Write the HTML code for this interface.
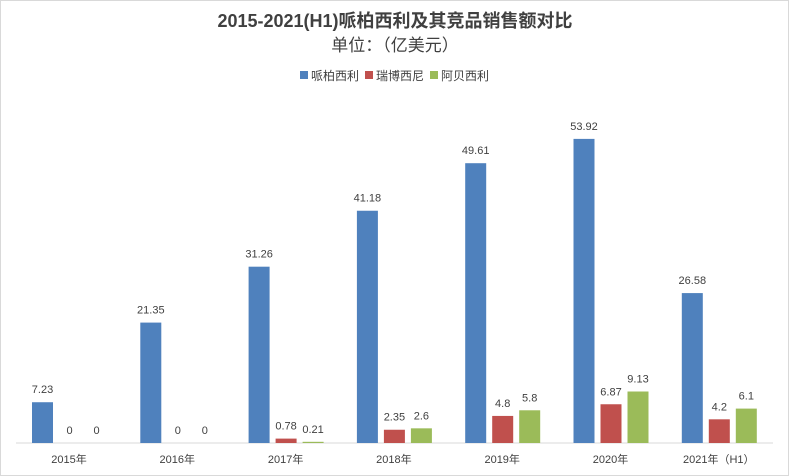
<!DOCTYPE html>
<html><head><meta charset="utf-8"><style>
body{margin:0;background:#fff}
svg{display:block}
text{font-family:"Liberation Sans","Noto Sans CJK SC",sans-serif;fill:#404040}
</style></head><body>
<svg width="789" height="476" xmlns="http://www.w3.org/2000/svg">
<rect x="0.5" y="0.5" width="788" height="475" fill="#fff" stroke="#d9d9d9"/>
<text x="395" y="27" text-anchor="middle" font-size="18" font-weight="bold">2015-2021(H1)哌柏西利及其竞品销售额对比</text>
<text x="395" y="51" text-anchor="middle" font-size="17" fill="#595959">单位：（亿美元）</text>
<rect x="300" y="71" width="8" height="8" fill="#4f81bd"/><text x="311" y="80" font-size="12">哌柏西利</text>
<rect x="365" y="71" width="8" height="8" fill="#c0504d"/><text x="376" y="80" font-size="12">瑞博西尼</text>
<rect x="430" y="71" width="8" height="8" fill="#9bbb59"/><text x="441" y="80" font-size="12">阿贝西利</text>
<line x1="16" y1="443" x2="773" y2="443" stroke="#d9d9d9"/>
<g id="bars"></g>
</svg>
<script>
var d=[["2015年",7.23,0,0],["2016年",21.35,0,0],["2017年",31.26,0.78,0.21],["2018年",41.18,2.35,2.6],["2019年",49.61,4.8,5.8],["2020年",53.92,6.87,9.13],["2021年（H1）",26.58,4.2,6.1]];
var c=["#4f81bd","#c0504d","#9bbb59"],s="",k=5.64,b=443;
d.forEach(function(r,i){var cx=69+108.3*i;
for(var j=0;j<3;j++){var x=cx-37+27*j,h=r[j+1]*k;
s+='<rect x="'+x+'" y="'+(b-h)+'" width="21" height="'+h+'" fill="'+c[j]+'"/>';
s+='<text x="'+(x+10.5)+'" y="'+(b-h-9)+'" text-anchor="middle" font-size="11">'+r[j+1]+'</text>';}
s+='<text x="'+cx+'" y="463" text-anchor="middle" font-size="11">'+r[0]+'</text>';});
document.getElementById("bars").innerHTML=s;
</script>
</body></html>
